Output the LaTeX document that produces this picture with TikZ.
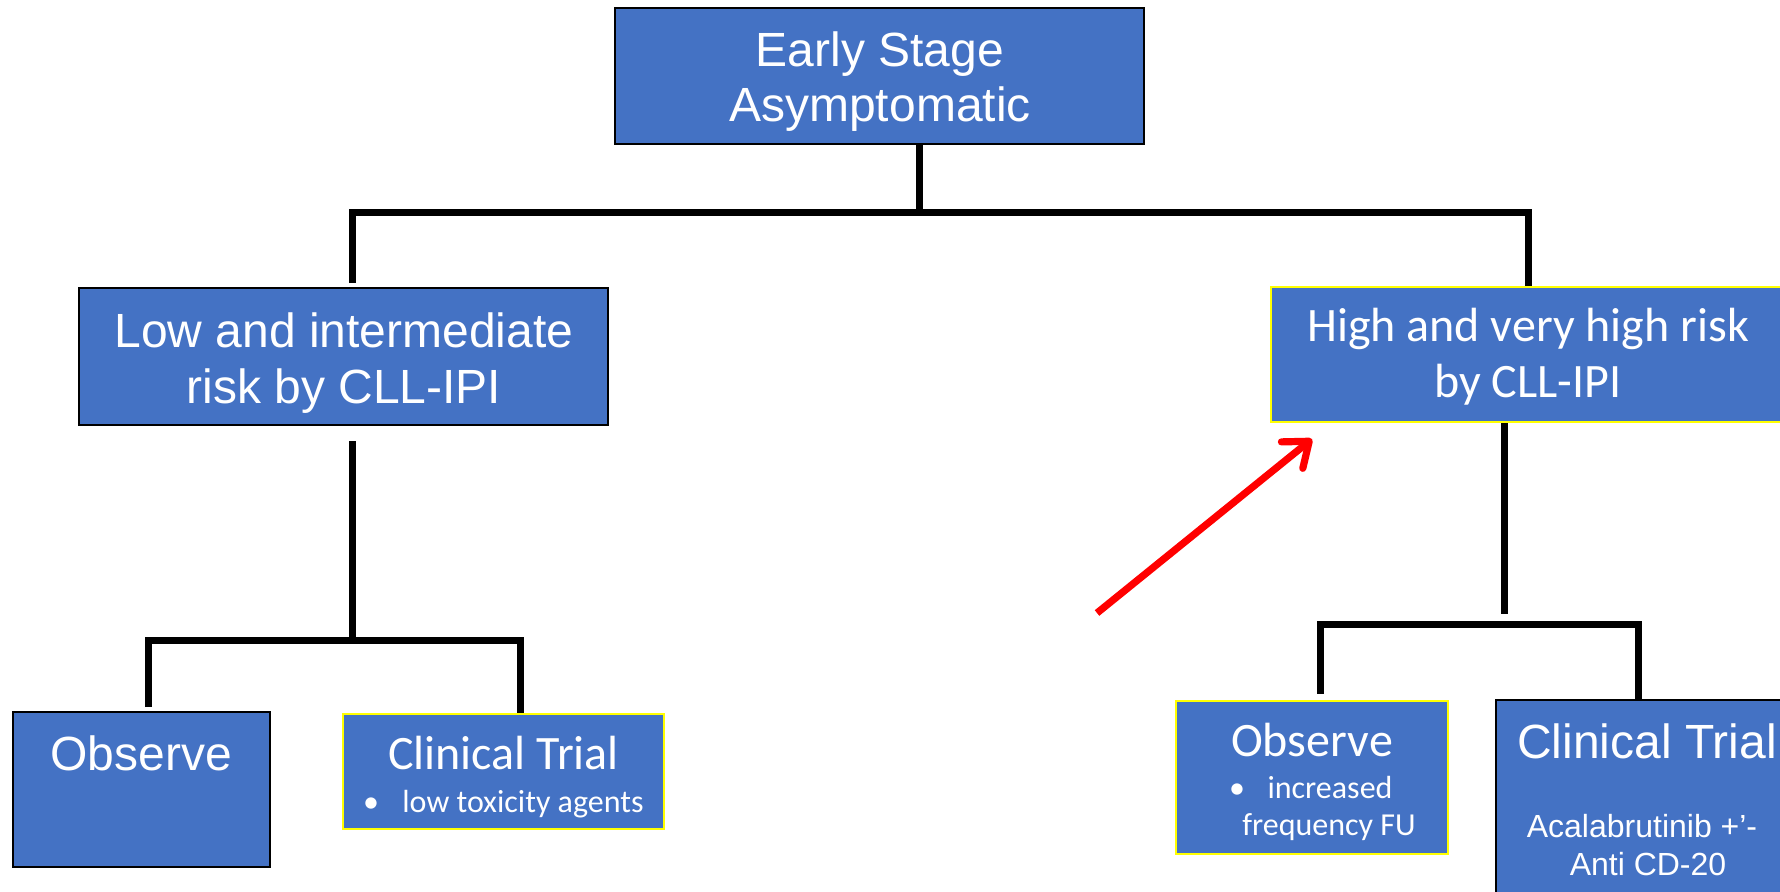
\documentclass[tikz,border=0pt]{standalone}
\usepackage{fontspec}
\newfontfamily\arialf{Liberation Sans}
\newfontfamily\calf{Carlito}
\usetikzlibrary{arrows.meta}
\definecolor{boxblue}{HTML}{4472C4}
\definecolor{arrred}{HTML}{FF0000}
\definecolor{ybord}{HTML}{FFFF00}
\begin{document}
\begin{tikzpicture}[x=0.5pt,y=-0.5pt,
  bbox/.style={rectangle, fill=boxblue, draw=black, line width=1pt, inner sep=0pt},
  ybox/.style={bbox, draw=ybord, line width=1.3pt},
  conn/.style={line width=3.5pt, draw=black},
  big/.style={text=white, inner sep=0pt, anchor=base, font=\arialf\fontsize{24}{28}\selectfont},
  bigc/.style={big, font=\calf\fontsize{24}{28}\selectfont},
  smc/.style={text=white, inner sep=0pt, anchor=base, font=\calf\fontsize{16}{19}\selectfont},
  sma/.style={smc, font=\arialf\fontsize{16}{19}\selectfont}]
\useasboundingbox (0,0) rectangle (1780,892);
\clip (0,0) rectangle (1780,892);

% boxes and texts
\node[bbox, minimum width=264.5pt, minimum height=68pt] (top) at (879.5,76) {};
\node[big] (t1) at (880,67) {Early Stage};
\node[big] (t2) at (880,122) {Asymptomatic};

\node[bbox, minimum width=264.5pt, minimum height=68.5pt] (low) at (343.5,356.5) {};
\node[big] (l1) at (344,348) {Low and intermediate};
\node[big] (l2) at (344,404) {risk by CLL-IPI};

\node[ybox, minimum width=257pt, minimum height=67.5pt] (high) at (1528,354.5) {};
\node[bigc] (h1) at (1528,342) {High and very high risk};
\node[bigc] (h2) at (1528,398) {by CLL-IPI};

\node[bbox, minimum width=128.5pt, minimum height=77.5pt] (obsL) at (141.5,789.5) {};
\node[big] (o1) at (141,770) {Observe};

\node[ybox, minimum width=160.5pt, minimum height=57.5pt] (ctL) at (503.5,771.5) {};
\node[bigc] (c1) at (503.5,769) {Clinical Trial};
\node[smc] (c2b) at (371,812) {•};
\node[smc, anchor=base west] (c2) at (402,812) {low toxicity agents};

\node[ybox, minimum width=136pt, minimum height=76.5pt] (obsR) at (1312,777.5) {};
\node[bigc] (r1) at (1312,756) {Observe};
\node[smc] (r2b) at (1237,798) {•};
\node[smc] (r2) at (1330,798) {increased};
\node[smc] (r3) at (1329,835) {frequency FU};

\node[bbox, minimum width=151pt, minimum height=150pt] (ctR) at (1647,850) {};
\node[big] (d1) at (1647,758) {Clinical Trial};
\node[sma] (d2) at (1642,837) {Acalabrutinib +’-};
\node[sma] (d3) at (1648,875) {Anti CD-20};

% connectors, top level
\coordinate (a0) at (919,213);
\coordinate (aL) at (352,213);
\coordinate (aR) at (1528,213);
\draw[conn] (top.south -| a0) -- (a0);
\draw[conn, shorten <=2pt] (low.north -| aL) -- (aL) -- (aR) -- (high.north);

% left branch
\coordinate (bJ) at (352,638);
\coordinate (bL) at (148,640);
\coordinate (bR) at (520,640);
\draw[conn, shorten <=7.5pt] (low.south -| bJ) -- (bJ);
\draw[conn, shorten <=2pt] (obsL.north -| bL) -- (bL) -- (bR) -- (ctL.north -| bR);

% right branch
\coordinate (cS) at (1504,614);
\coordinate (cL) at (1320,624);
\coordinate (cR) at (1638,624);
\draw[conn] (high.south -| cS) -- (cS);
\draw[conn, shorten <=3pt] (obsR.north -| cL) -- (cL) -- (cR) -- (ctR.north -| cR);

% red arrow
\coordinate (rs) at (1097,613);
\coordinate (rt) at (1312,439);
\draw[line width=3.6pt, arrred, -{Straight Barb[length=11pt, width=17pt, round]}] (rs) -- (rt);
\end{tikzpicture}
\end{document}
